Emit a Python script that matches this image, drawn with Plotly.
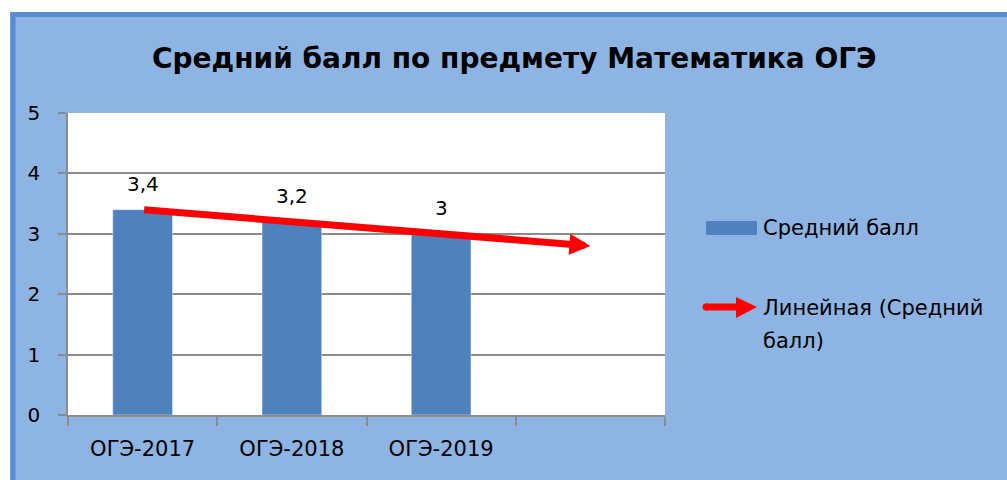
import numpy as np
import plotly.graph_objects as go

# ---- data ----
categories = ["ОГЭ-2017", "ОГЭ-2018", "ОГЭ-2019"]
all_slots = ["ОГЭ-2017", "ОГЭ-2018", "ОГЭ-2019", " "]
values = [3.4, 3.2, 3.0]
series_name = "Средний балл"
trend_lines = ["Линейная (Средний", "балл)"]
title_text = "Средний балл по предмету Математика ОГЭ"
y_ticks = [0, 1, 2, 3, 4, 5]

# ---- styles ----
W, H = 1007, 480
ML, MR, MT, MB = 68, 342, 113, 65
PW, PH = W - ML - MR, H - MT - MB
BG = "#8DB4E2"
FRAME = "#558ED5"
BAR = "#4F81BD"
GRID = "#8C8C8C"
RED = "#FF0000"
FONT = "DejaVu Sans"
FS = 21


def px(x):
    return (x - ML) / PW


def py(y):
    return 1 - (y - MT) / PH


# linear trend, forecast forward one period
idx = np.arange(len(values))
k, b = np.polyfit(idx, values, 1)
trend_x = np.arange(len(values) + 1)
trend_y = k * trend_x + b

fig = go.Figure()
fig.add_trace(go.Bar(
    x=categories, y=values, name=series_name, marker_color=BAR,
    width=0.4, showlegend=False, hoverinfo="skip",
))
# invisible trace so the 4th (empty) category exists
fig.add_trace(go.Scatter(
    x=[all_slots[i] for i in trend_x], y=trend_y, mode="lines",
    line=dict(color="rgba(0,0,0,0)", width=0),
    showlegend=False, hoverinfo="skip",
))

annotations = []
# trend line with arrow head (from first point to forecast point)
annotations.append(dict(
    x=float(trend_x[-1]), y=float(trend_y[-1]), ax=float(trend_x[0]), ay=float(trend_y[0]),
    xref="x", yref="y", axref="x", ayref="y", text="", showarrow=True,
    arrowhead=2, arrowsize=0.6, arrowwidth=7, arrowcolor=RED, standoff=0, startstandoff=0,
))

for c, v in zip(categories, values):
    annotations.append(dict(
        x=c, y=v, xref="x", yref="y", text=f"{v:g}".replace(".", ","),
        showarrow=False, yshift=26, font=dict(size=FS - 1, color="black", family=FONT),
    ))

# title
annotations.append(dict(
    x=px(514), y=py(59), xref="paper", yref="paper", text=f"<b>{title_text}</b>",
    showarrow=False, font=dict(size=28, color="black", family=FONT),
    xanchor="center", yanchor="middle",
))

# legend texts
annotations.append(dict(
    x=px(761), y=py(228), xref="paper", yref="paper", text=series_name,
    showarrow=False, xanchor="left", yanchor="middle",
    font=dict(size=FS, color="black", family=FONT),
))
for i, line in enumerate(trend_lines):
    annotations.append(dict(
        x=px(761), y=py(308 + 33 * i), xref="paper", yref="paper", text=line,
        showarrow=False, xanchor="left", yanchor="middle",
        font=dict(size=FS, color="black", family=FONT),
    ))

shapes = [
    # white outside frame
    dict(type="rect", xref="paper", yref="paper", x0=px(-5), x1=px(10), y0=py(-5), y1=py(H + 5),
         fillcolor="white", line=dict(width=0), layer="below"),
    dict(type="rect", xref="paper", yref="paper", x0=px(-5), x1=px(W + 5), y0=py(-5), y1=py(12),
         fillcolor="white", line=dict(width=0), layer="below"),
    # frame
    dict(type="rect", xref="paper", yref="paper", x0=px(13), x1=px(W + 20), y0=py(14.5), y1=py(H + 20),
         fillcolor="rgba(0,0,0,0)", line=dict(color=FRAME, width=5), layer="below"),
    # legend swatch for bars
    dict(type="rect", xref="paper", yref="paper", x0=px(706), x1=px(757), y0=py(221), y1=py(235),
         fillcolor=BAR, line=dict(width=0)),
    # legend arrow
    dict(type="line", xref="paper", yref="paper", x0=px(706), x1=px(740), y0=py(307), y1=py(307),
         line=dict(color=RED, width=7)),
    dict(type="circle", xref="paper", yref="paper", x0=px(702.5), x1=px(709.5), y0=py(303.5), y1=py(310.5),
         fillcolor=RED, line=dict(width=0)),
    dict(type="path", xref="paper", yref="paper",
         path=f"M {px(736)},{py(297)} L {px(757)},{py(307)} L {px(736)},{py(318)} Z",
         fillcolor=RED, line=dict(width=0)),
]

fig.update_layout(
    width=W, height=H,
    margin=dict(l=ML, r=MR, t=MT, b=MB, pad=0),
    paper_bgcolor=BG, plot_bgcolor="white",
    font=dict(family=FONT, size=FS, color="black"),
    showlegend=False,
    annotations=annotations,
    shapes=shapes,
    xaxis=dict(
        type="category", categoryorder="array", categoryarray=all_slots,
        range=[-0.5, len(all_slots) - 0.5],
        tickson="boundaries", ticks="outside", ticklen=9, tickcolor=GRID, tickwidth=1.5,
        showline=True, linecolor=GRID, linewidth=1.5, showgrid=False,
        tickfont=dict(size=FS, family=FONT, color="black"),
        ticklabelstandoff=14, fixedrange=True,
    ),
    yaxis=dict(
        range=[0, 5], tickvals=y_ticks, ticks="outside", ticklen=8, tickcolor=GRID, tickwidth=1.5,
        showline=True, linecolor=GRID, linewidth=1.5,
        showgrid=True, gridcolor=GRID, gridwidth=1.5, zeroline=False,
        tickfont=dict(size=20, family=FONT, color="black"),
        ticklabelstandoff=14, fixedrange=True,
    ),
)

fig.write_html(
    "out.html", config={"displayModeBar": False},
    post_script="document.body.style.margin='0';document.body.style.padding='0';",
)
